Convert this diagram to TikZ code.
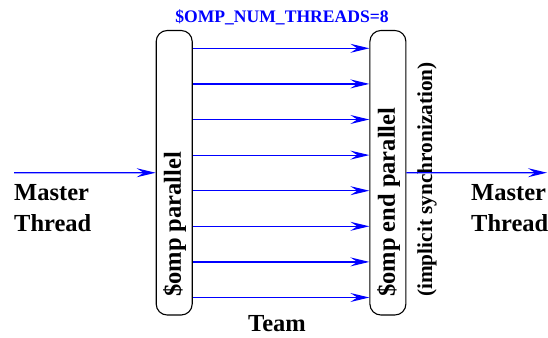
\documentclass[tikz,border=0pt]{standalone}
\usepackage{fontspec}
\setmainfont{Liberation Serif}
\usetikzlibrary{arrows.meta}
\tikzset{
  bar/.style={draw=black, line width=1.1pt, rounded corners=11pt, minimum width=36pt, minimum height=284.5pt, inner sep=0pt},
  thread/.style={draw=blue, line width=1.2pt, -{Stealth[length=19pt,width=9pt,inset=7pt]}},
  bigtxt/.style={font=\fontsize{24.5}{30}\selectfont\bfseries, inner sep=0pt},
  synctxt/.style={font=\fontsize{21.3}{26}\selectfont\bfseries, inner sep=0pt},
  titletxt/.style={font=\fontsize{17.6}{21}\selectfont\bfseries, text=blue, inner sep=0pt},
}
\begin{document}
\begin{tikzpicture}[x=1pt,y=-1pt]
\useasboundingbox (0,0) rectangle (548,337);
\node[bar] (lbox) at (174.2,172.75) {};
\node[bar] (rbox) at (387.9,172.75) {};
\node[bigtxt, rotate=90, anchor=west] (ltxt) at (174.5,297) {\$omp parallel};
\node[bigtxt, rotate=90, anchor=west] (rtxt) at (388.5,297) {\$omp end parallel};
\node[synctxt, rotate=90, anchor=west] (sync) at (427,297) {(implicit synchronization)};
\node[titletxt, anchor=base] (title) at (282,22.7) {\$OMP\_NUM\_THREADS=8};
\node[bigtxt, anchor=base] (team) at (277,331) {Team};
\node[bigtxt, anchor=base west] (lm1) at (14,200) {Master};
\node[bigtxt, anchor=base west] (lm2) at (14,231.7) {Thread};
\node[bigtxt, anchor=base west] (rm1) at (471,200) {Master};
\node[bigtxt, anchor=base west] (rm2) at (471,231.7) {Thread};
\coordinate (inS) at (14,172.7);
\coordinate (outE) at (547,172.7);
\draw[thread] (inS) -- (lbox.west);
\draw[thread] (rbox.east) -- (outE);
\foreach \i in {0,...,7} {
  \coordinate (t\i) at (0,{48.3+35.6*\i});
  \draw[thread] (lbox.east |- t\i) -- (rbox.west |- t\i);
}
\end{tikzpicture}
\end{document}
